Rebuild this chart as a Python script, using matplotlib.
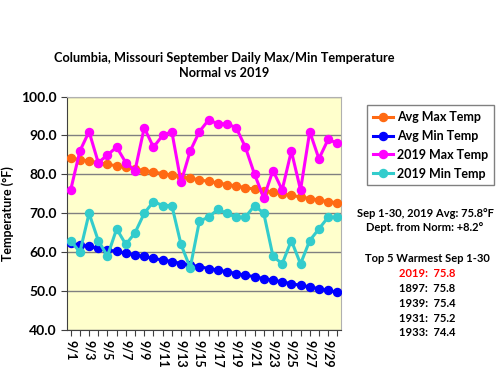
import numpy as np
import matplotlib
matplotlib.use("Agg")
import matplotlib.pyplot as plt

plt.rcParams["font.family"] = ["Lato", "DejaVu Sans"]

days = list(range(1, 31))
tick_labels = ["9/%d" % d for d in days]

avg_max = [84.2, 83.8, 83.4, 83.0, 82.6, 82.2, 81.8, 81.4, 81.0, 80.6,
           80.2, 79.8, 79.4, 79.0, 78.6, 78.2, 77.8, 77.4, 77.0, 76.6,
           76.2, 75.8, 75.4, 75.0, 74.6, 74.2, 73.8, 73.4, 73.0, 72.7]
avg_min = [62.3, 61.9, 61.5, 61.0, 60.6, 60.2, 59.7, 59.3, 58.9, 58.4,
           58.0, 57.6, 57.1, 56.7, 56.3, 55.8, 55.4, 55.0, 54.5, 54.1,
           53.7, 53.2, 52.8, 52.4, 51.9, 51.5, 51.1, 50.6, 50.2, 49.7]
max_2019 = [76, 86, 91, 83, 85, 87, 83, 81, 92, 87,
            90, 91, 78, 86, 91, 94, 93, 93, 92, 87,
            80, 74, 81, 76, 86, 76, 91, 84, 89, 88]
min_2019 = [63, 60, 70, 63, 59, 66, 62, 65, 70, 73,
            72, 72, 62, 56, 68, 69, 71, 70, 69, 69,
            72, 70, 59, 57, 63, 57, 63, 66, 69, 69]

top5_years = ["2019", "1897", "1939", "1931", "1933"]
top5_temps = [75.8, 75.8, 75.4, 75.2, 74.4]

series = [
    ("Avg Max Temp", avg_max, "#FF6A13"),
    ("Avg Min Temp", avg_min, "#0000FF"),
    ("2019 Max Temp", max_2019, "#FF00FF"),
    ("2019 Min Temp", min_2019, "#33CCCC"),
]

fig = plt.figure(figsize=(5, 3.7), dpi=100)
ax = fig.add_axes([0.134, 0.108, 0.548, 0.631])
ax.set_facecolor("#FFFFCC")

for i, (name, vals, col) in enumerate(series):
    ax.plot(days, vals, color=col, lw=2.2, marker="o", ms=5.8,
            label=name, zorder=3 + i)

ax.set_ylim(40, 100)
ax.set_yticks(np.arange(40, 101, 10))
ax.set_yticklabels(["%.1f" % v for v in np.arange(40, 101, 10)],
                   fontsize=10, fontweight="bold")
ax.set_xlim(0.6, 30.4)
ax.set_xticks(days)
ax.set_xticklabels([t if i % 2 == 0 else "" for i, t in enumerate(tick_labels)],
                   rotation=270, fontsize=9, fontweight="bold")
ax.tick_params(axis="both", length=4, color="#404040")
ax.grid(axis="y", color="#808080", lw=1)
ax.set_axisbelow(True)
ax.set_ylabel("Temperature (°F)", fontsize=9, fontweight="bold", labelpad=5)
for s in ["top", "right"]:
    ax.spines[s].set_color("#B0B0B0")
for s in ["left", "bottom"]:
    ax.spines[s].set_color("#404040")

fig.text(0.448, 0.823, "Columbia, Missouri September Daily Max/Min Temperature\nNormal vs 2019",
         ha="center", va="center", fontsize=9.2, fontweight="bold", linespacing=1.25)

leg = fig.legend(loc="upper left", bbox_to_anchor=(0.722, 0.732), frameon=True,
                 fancybox=False, edgecolor="#606060",
                 handlelength=1.6, handletextpad=0.3, labelspacing=0.55, borderpad=0.45,
                 prop={"weight": "bold", "size": 9})
leg.get_frame().set_linewidth(1)

fig.text(0.85, 0.405, "Sep 1-30, 2019 Avg: 75.8°F\nDept. from Norm: +8.2°",
         ha="center", va="center", fontsize=8, fontweight="bold", linespacing=1.35)
fig.text(0.855, 0.302, "Top 5 Warmest Sep 1-30", ha="center", va="center",
         fontsize=8, fontweight="bold")
for i, (yr, t) in enumerate(zip(top5_years, top5_temps)):
    fig.text(0.855, 0.262 - i * 0.0405, "%s:  %.1f" % (yr, t), ha="center",
             va="center", fontsize=8, fontweight="bold",
             color="red" if i == 0 else "black")

fig.savefig("out.png", dpi=100)
